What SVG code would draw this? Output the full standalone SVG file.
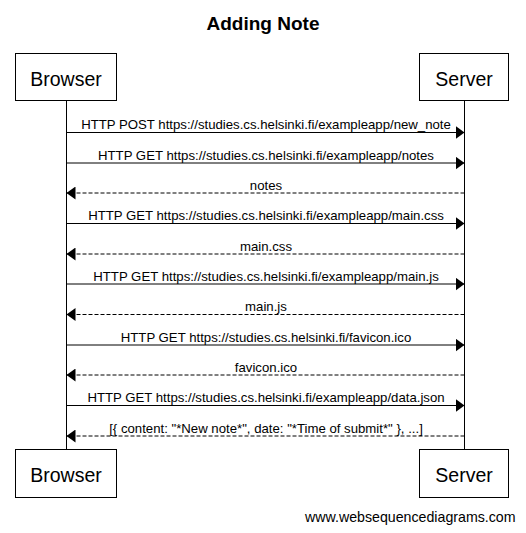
<svg xmlns="http://www.w3.org/2000/svg" width="526" height="533" viewBox="0 0 526 533">
<style>
.box{fill:#fff;stroke:#000;stroke-width:1}
.life{stroke:#000;stroke-width:1}
.msg{stroke:#000;stroke-width:1;fill:none}
.dash{stroke-dasharray:4 2}
.lbl{font-family:"Liberation Sans",Arial,sans-serif;font-size:13.2px;fill:#000;text-anchor:middle}
.actor{font-family:"Liberation Sans",Arial,sans-serif;font-size:19.5px;fill:#000;text-anchor:middle}
.title{font-family:"Liberation Sans",Arial,sans-serif;font-size:19px;font-weight:bold;fill:#000;text-anchor:middle}
.wm{font-family:"Liberation Sans",Arial,sans-serif;font-size:14.2px;fill:#000}
</style>
<defs>
<marker id="ah" markerWidth="10" markerHeight="13" refX="9" refY="6.5" orient="auto" markerUnits="userSpaceOnUse">
<path d="M0,0 L9,6.5 L0,13 Z" fill="#000"/>
</marker>
</defs>
<rect width="526" height="533" fill="#fff"/>
<text class="title" x="263" y="30">Adding Note</text>
<g id="lifelines">
<line class="life" x1="66.5" y1="100.5" x2="66.5" y2="449.5"/>
<line class="life" x1="464.5" y1="100.5" x2="464.5" y2="449.5"/>
</g>
<g id="browser-top"><rect class="box" x="15.5" y="53.5" width="101" height="47"/><text class="actor" x="66" y="86">Browser</text></g>
<g id="server-top"><rect class="box" x="419.5" y="53.5" width="89" height="47"/><text class="actor" x="464" y="86">Server</text></g>
<g id="browser-bottom"><rect class="box" x="15.5" y="449.5" width="101" height="48"/><text class="actor" x="66" y="482">Browser</text></g>
<g id="server-bottom"><rect class="box" x="419.5" y="449.5" width="89" height="48"/><text class="actor" x="464" y="482">Server</text></g>
<g id="connectors">
<line class="msg" x1="66.5" y1="132.5" x2="464.5" y2="132.5" marker-end="url(#ah)"/>
<text class="lbl" x="266" y="129">HTTP POST https://studies.cs.helsinki.fi/exampleapp/new_note</text>
<line class="msg" x1="66.5" y1="163" x2="464.5" y2="163" marker-end="url(#ah)"/>
<text class="lbl" x="266" y="159.5">HTTP GET https://studies.cs.helsinki.fi/exampleapp/notes</text>
<line class="msg dash" x1="464.5" y1="193" x2="66.5" y2="193" marker-end="url(#ah)"/>
<text class="lbl" x="266" y="189.5">notes</text>
<line class="msg" x1="66.5" y1="223.5" x2="464.5" y2="223.5" marker-end="url(#ah)"/>
<text class="lbl" x="266" y="220">HTTP GET https://studies.cs.helsinki.fi/exampleapp/main.css</text>
<line class="msg dash" x1="464.5" y1="254" x2="66.5" y2="254" marker-end="url(#ah)"/>
<text class="lbl" x="266" y="250.5">main.css</text>
<line class="msg" x1="66.5" y1="284" x2="464.5" y2="284" marker-end="url(#ah)"/>
<text class="lbl" x="266" y="280.5">HTTP GET https://studies.cs.helsinki.fi/exampleapp/main.js</text>
<line class="msg dash" x1="464.5" y1="314.5" x2="66.5" y2="314.5" marker-end="url(#ah)"/>
<text class="lbl" x="266" y="311">main.js</text>
<line class="msg" x1="66.5" y1="345" x2="464.5" y2="345" marker-end="url(#ah)"/>
<text class="lbl" x="266" y="341.5">HTTP GET https://studies.cs.helsinki.fi/favicon.ico</text>
<line class="msg dash" x1="464.5" y1="375" x2="66.5" y2="375" marker-end="url(#ah)"/>
<text class="lbl" x="266" y="371.5">favicon.ico</text>
<line class="msg" x1="66.5" y1="405.5" x2="464.5" y2="405.5" marker-end="url(#ah)"/>
<text class="lbl" x="266" y="402">HTTP GET https://studies.cs.helsinki.fi/exampleapp/data.json</text>
<line class="msg dash" x1="464.5" y1="436" x2="66.5" y2="436" marker-end="url(#ah)"/>
<text class="lbl" x="266" y="432.5">[{ content: "*New note*", date: "*Time of submit*" }, ...]</text>
</g>
<text class="wm" x="305" y="522">www.websequencediagrams.com</text>
</svg>
